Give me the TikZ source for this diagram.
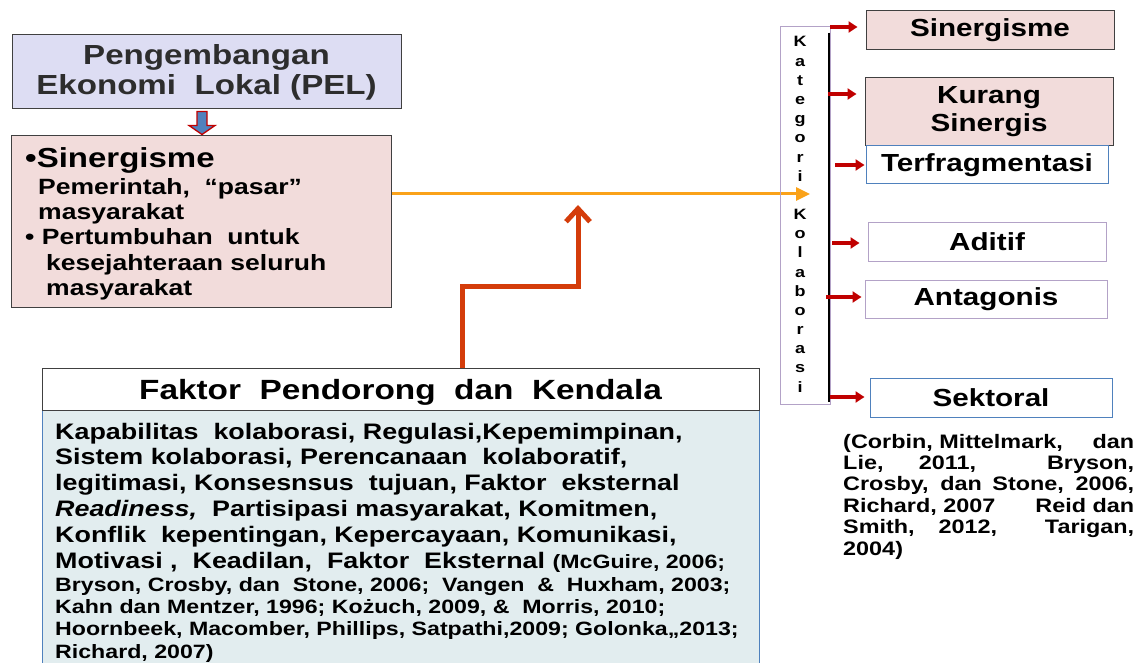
\documentclass[tikz,border=0pt]{standalone}
\usepackage{fontspec}
\setmainfont{Liberation Sans}[FakeStretch=1.2]
\usepackage{xcolor}
\definecolor{pelfill}{RGB}{221,221,243}
\definecolor{pinkfill}{RGB}{242,220,219}
\definecolor{bodyfill}{RGB}{226,237,239}
\definecolor{boxline}{RGB}{64,64,64}
\definecolor{blueline}{RGB}{79,129,189}
\definecolor{purpleline}{RGB}{179,162,199}
\definecolor{DarkRed}{RGB}{192,0,0}
\definecolor{arrorange}{RGB}{250,162,25}
\definecolor{steporange}{RGB}{212,60,10}
\definecolor{pelgray}{RGB}{45,45,45}
\usetikzlibrary{calc}
\usetikzlibrary{arrows.meta}

\newcommand{\citesize}{\fontsize{19.3}{22}\selectfont}

\tikzset{
  box/.style={draw=boxline, line width=1pt, inner sep=0pt, align=center},
  katlabel/.style={font=\fontsize{24.7}{28}\selectfont\bfseries},
  katletter/.style={inner sep=0pt, anchor=base, font=\fontsize{15}{18}\selectfont\bfseries},
  redarr/.style={DarkRed, line width=3.5pt, -{Triangle[length=9pt,width=11pt]}},
}

\begin{document}
\begin{tikzpicture}[x=1pt, y=-1pt]
\useasboundingbox (0,0) rectangle (1137,663);

% PEL box and the block arrow below it
\node[box, fill=pelfill, minimum width=389pt, minimum height=74pt, text=pelgray,
  font=\fontsize{27.6}{30}\selectfont\bfseries] (pel) at (206.5,72)
  {Pengembangan\\Ekonomi\ \ Lokal (PEL)};
\node[box, fill=pinkfill, minimum width=380pt, minimum height=171pt] (sin) at (201,221.5) {};
\node[anchor=north west, inner sep=0pt, align=left, font=\fontsize{22.1}{25.3}\selectfont\bfseries] (sintext) at (25,147)
  {{\fontsize{27.5}{30}\selectfont •Sinergisme}\\[1.7pt]
   \hspace*{13pt}Pemerintah,\ \ “pasar”\\
   \hspace*{13pt}masyarakat\\
   • Pertumbuhan\ \ untuk\\
   \hspace*{21pt}kesejahteraan seluruh\\
   \hspace*{21pt}masyarakat};

\coordinate (pelarr) at ($(pel.south)+(-4.5,2)$);
\draw[DarkRed, fill=blueline, line width=1.3pt, line join=miter] ($(pelarr)+(-5,0)$) -- ++(10,0) -- ++(0,14) -- ++(8,0)
  -- ++(-13,9) -- ++(-13,-9) -- ++(8,0) -- cycle;

% factor boxes
\node[draw=blueline, line width=1pt, fill=bodyfill, minimum width=717pt, minimum height=260pt, inner sep=0pt] (body) at (400.5,540) {};
\node[box, fill=white, minimum width=717pt, minimum height=42pt, text depth=0pt,
  font=\fontsize{27.8}{30}\selectfont\bfseries] (faktor) at (400.5,389)
  {Faktor\ \ Pendorong\ \ dan\ \ Kendala};
\node[anchor=north west, inner sep=0pt, align=left, font=\fontsize{22.4}{25.8}\selectfont\bfseries] (bodytext) at (55,422.7)
  {Kapabilitas\ \ kolaborasi, Regulasi,Kepemimpinan,\\
   Sistem kolaborasi, Perencanaan\ \ kolaboratif,\\
   legitimasi, Konsesnsus\ \ tujuan, Faktor\ \ eksternal\\
   \textit{Readiness,}\ \ Partisipasi masyarakat, Komitmen,\\
   Konflik\ \ kepentingan, Kepercayaan, Komunikasi,\\
   Motivasi ,\ \ Keadilan,\ \ Faktor\ \ Eksternal {\citesize(McGuire, 2006;}\\[-2.8pt]
   {\citesize Bryson, Crosby, dan\ \ Stone, 2006;\ \ Vangen\ \ \&\ \ Huxham, 2003;}\\[-3.5pt]
   {\citesize Kahn dan Mentzer, 1996; Kożuch, 2009, \&\ \ Morris, 2010;}\\[-3.5pt]
   {\citesize Hoornbeek, Macomber, Phillips, Satpathi,2009; Golonka,,2013;}\\[-3.5pt]
   {\citesize Richard, 2007)}};

% step arrow and the orange line
\coordinate (stepstart) at ($(faktor.north west)+(421,0)$);
\coordinate (stepknee) at (578,286);
\coordinate (stepend) at (578,205);
\draw[steporange, line width=5pt, line join=miter, -{Straight Barb[length=13pt,width=24pt]}] (stepstart) |- (stepknee) -- (stepend);

\coordinate (katin) at (810,194);
\draw[arrorange, line width=3pt, -{Triangle[length=14pt,width=13pt]}] (sin.east |- katin) -- (katin);

% kategori kolaborasi column
\node[draw=purpleline, line width=0.8pt, minimum width=50pt, minimum height=378pt, inner sep=0pt] (kat) at (805,215) {};
\draw[black, line width=2pt] ($(kat.north east)+(-1,7)$) -- ($(kat.south east)+(-1,-2)$);
\foreach \c [count=\i from 0] in {K,a,t,e,g,o,r,i,{},K,o,l,a,b,o,r,a,s,i}
  \node[katletter] (kl\i) at (800,47+19.17*\i) {\c};

% right boxes
\node[box, katlabel, fill=pinkfill, minimum width=248pt, minimum height=39pt] (rsin) at (990,30.5) {Sinergisme};
\node[box, katlabel, fill=pinkfill, minimum width=248pt, minimum height=68pt] (rkur) at (989,112) {Kurang\\Sinergis};
\node[box, katlabel, draw=blueline, fill=white, minimum width=242pt, minimum height=38pt] (rter) at (987,165) {Terfragmentasi};
\node[box, katlabel, draw=purpleline, fill=white, minimum width=238pt, minimum height=39pt] (radi) at (987,241.5) {Aditif};
\node[box, katlabel, draw=purpleline, fill=white, minimum width=242pt, minimum height=38pt] (rant) at (986,299) {Antagonis};
\node[box, katlabel, draw=blueline, fill=white, minimum width=242pt, minimum height=39pt] (rsek) at (991,397.5) {Sektoral};

% red arrows from the column
\coordinate (a1) at (830,27);
\coordinate (a2) at (828,94);
\coordinate (a3) at (835,165);
\coordinate (a4) at (832,243);
\coordinate (a5) at (826,297);
\coordinate (a6) at (830,397);
\draw[redarr, shorten >=8pt] (a1) -- (a1 -| rsin.west);
\draw[redarr, shorten >=8pt] (a2) -- (a2 -| rkur.west);
\draw[redarr, shorten >=1pt] (a3) -- (a3 -| rter.west);
\draw[redarr, shorten >=8pt] (a4) -- (a4 -| radi.west);
\draw[redarr, shorten >=3pt] (a5) -- (a5 -| rant.west);
\draw[redarr, shorten >=5pt] (a6) -- (a6 -| rsek.west);

% sources
\node[anchor=north west, inner sep=0pt, text width=291pt, align=justify, font=\fontsize{19.5}{21.4}\selectfont\bfseries] (cite) at (843,433.8)
  {(Corbin, Mittelmark,\hfill dan\linebreak Lie,\hfill 2011,\hfill\hfill Bryson,\linebreak Crosby, dan Stone, 2006,\linebreak
   Richard, 2007\hfill Reid dan\linebreak Smith,\hfill 2012,\hfill\hfill Tarigan,\linebreak 2004)};
\end{tikzpicture}
\end{document}
